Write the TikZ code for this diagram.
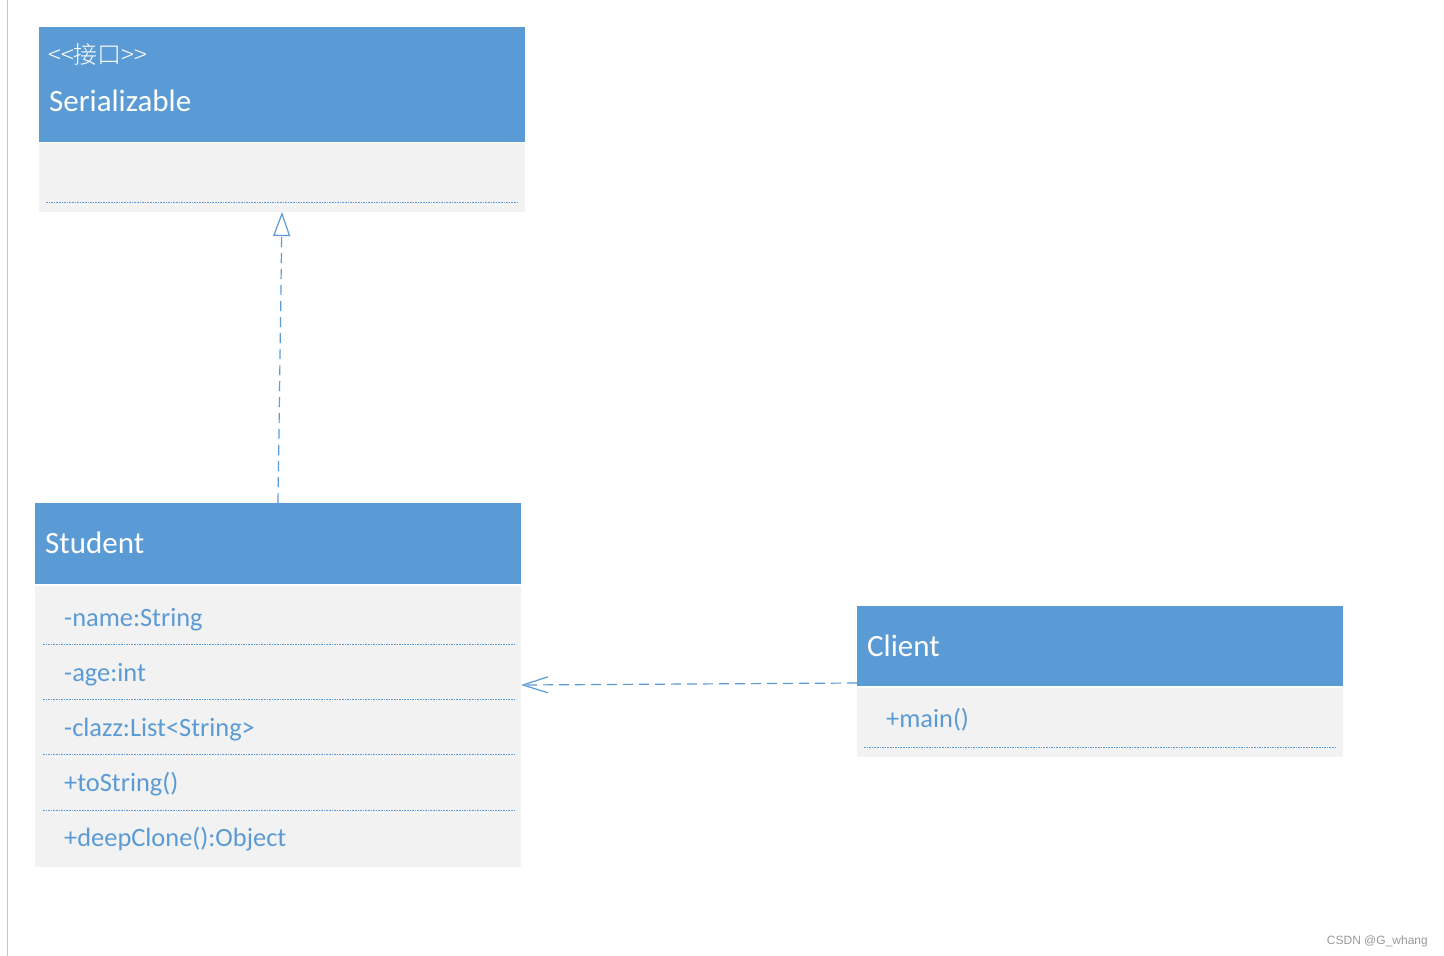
\documentclass[tikz,border=0pt]{standalone}
\usepackage{fontspec}
\setmainfont{Carlito}
\newfontfamily\cjk{Noto Sans CJK SC Light}
\newfontfamily\wmfont{Liberation Sans}
\usetikzlibrary{arrows.meta,calc}
\definecolor{umlblue}{HTML}{5B9BD5}
\definecolor{umlgray}{HTML}{F2F2F2}
\definecolor{edgegray}{HTML}{C6C6C6}
\definecolor{wmgray}{HTML}{999999}
\begin{document}
\begin{tikzpicture}[x=1pt,y=-1pt,
  headbox/.style={fill=umlblue, draw=none, inner sep=0pt, outer sep=0pt, anchor=north west, minimum width=486pt},
  bodybox/.style={fill=umlgray, draw=none, inner sep=0pt, outer sep=0pt, anchor=north west, minimum width=486pt},
  title/.style={text=white, font=\fontsize{31}{36}\selectfont, anchor=base west, inner sep=0pt},
  stereo/.style={text=white, font=\cjk\fontsize{24}{28}\selectfont, anchor=base west, inner sep=0pt},
  member/.style={text=umlblue, font=\fontsize{26.4}{30}\selectfont, anchor=base west, inner sep=0pt},
  sepline/.style={draw=umlblue, line width=0.8pt, dash pattern=on 1.6pt off 1pt},
  conn/.style={draw=umlblue, line width=1.2pt, dash pattern=on 10pt off 6pt},
  wm/.style={text=wmgray, font=\wmfont\fontsize{12}{14}\selectfont, anchor=base east, inner sep=0pt}]
\useasboundingbox (0,0) rectangle (1444,956);
\fill[white] (0,0) rectangle (1444,956);
\draw[edgegray, line width=1.5pt] (7.5,0) -- (7.5,956);

% Serializable
\node[headbox, minimum height=115pt] (serhead) at (39,27) {};
\node[bodybox, minimum height=69pt] (serbody) at (39,143) {};
\node[stereo] (serstereo) at (48,63) {<<接口>>};
\node[title] (sertitle) at (49,111) {Serializable};
\draw[sepline] (46,202) -- (517,202);

% Student
\node[headbox, minimum height=81pt] (stuhead) at (35,503) {};
\node[bodybox, minimum height=281pt] (stubody) at (35,586) {};
\node[title] (stutitle) at (45,553) {Student};
\node[member] (m1) at (64,626) {-name:String};
\node[member] (m2) at (64,681) {-age:int};
\node[member] (m3) at (64,736) {-clazz:List<String>};
\node[member] (m4) at (64,791) {+toString()};
\node[member] (m5) at (64,846) {+deepClone():Object};
\draw[sepline] (43,644) -- (514,644);
\draw[sepline] (43,699) -- (514,699);
\draw[sepline] (43,754) -- (514,754);
\draw[sepline] (43,810) -- (514,810);

% Client
\node[headbox, minimum height=80pt] (clihead) at (857,606) {};
\node[bodybox, minimum height=69pt] (clibody) at (857,688) {};
\node[title] (clititle) at (867,656) {Client};
\node[member] (c1) at (886,727) {+main()};
\draw[sepline] (864,747) -- (1336,747);

% connectors
\draw[conn, -{Triangle[open, fill=white, length=24pt, width=17pt, line width=1.2pt]}] (stuhead.north) -- (serbody.south);
\draw[conn, -{Straight Barb[length=25pt, width=16pt, line width=1.2pt]}] ($(clihead.south west)+(0,-3)$) -- ($(stubody.north east)+(0,99)$);

% watermark
\node[wm] (wmark) at (1428,944) {CSDN @G\_whang};
\end{tikzpicture}
\end{document}
